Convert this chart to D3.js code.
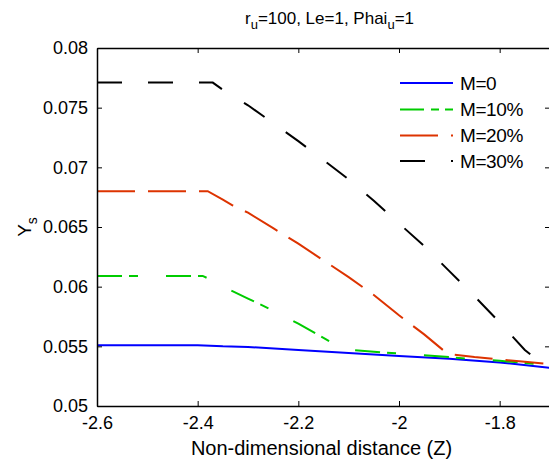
<!DOCTYPE html>
<html>
<head>
<meta charset="utf-8">
<script src="https://cdn.jsdelivr.net/npm/d3@7"></script>
<style>
  body { margin: 0; background: #fff; }
  svg { font-family: "Liberation Sans", Arial, sans-serif; }
</style>
</head>
<body>
<svg id="chart" width="549" height="462"></svg>
<script>
// Z positions and Ys values
const zM0  = [-2.6, -2.4, -2.35, -2.3, -2.2, -2.1, -2.0, -1.9, -1.8, -1.7];
const yM0  = [0.0551, 0.0551, 0.0550, 0.05495, 0.0547, 0.05445, 0.0542, 0.05395, 0.05365, 0.0532];

const zM10 = [-2.6, -2.39, -2.37, -2.35, -2.3, -2.25, -2.2, -2.15, -2.12, -2.1, -2.05, -2.0, -1.95, -1.9, -1.85, -1.8, -1.75, -1.7];
const yM10 = [0.0609, 0.0609, 0.0605, 0.0600, 0.0590, 0.0580, 0.0569, 0.0557, 0.0550, 0.0547, 0.05455, 0.0544, 0.05425, 0.0541, 0.0539, 0.0538, 0.0536, 0.0534];

const zM20 = [-2.6, -2.38, -2.35, -2.33, -2.3, -2.25, -2.2, -2.15, -2.1, -2.05, -2.0, -1.95, -1.91, -1.89, -1.85, -1.8, -1.75, -1.7];
const yM20 = [0.0680, 0.0680, 0.0673, 0.0668, 0.0662, 0.0649, 0.0636, 0.0622, 0.0608, 0.0593, 0.0576, 0.0560, 0.0546, 0.0543, 0.0541, 0.0539, 0.0537, 0.0535];

const zM30 = [-2.6, -2.37, -2.35, -2.3, -2.25, -2.2, -2.15, -2.1, -2.05, -2.0, -1.95, -1.9, -1.85, -1.8, -1.75, -1.72, -1.7];
const yM30 = [0.0771, 0.0771, 0.0765, 0.0752, 0.0737, 0.0722, 0.0706, 0.0690, 0.0672, 0.0653, 0.0634, 0.0613, 0.0592, 0.0570, 0.0547, 0.0537, 0.0535];

const xTicks = [-2.6, -2.4, -2.2, -2.0, -1.8];
const yTicks = [0.05, 0.055, 0.06, 0.065, 0.07, 0.075, 0.08];
const seriesNames = ["M=0", "M=10%", "M=20%", "M=30%"];

const series = [
  { name: seriesNames[0], z: zM0,  y: yM0,  color: "#0000ff", dash: null },
  { name: seriesNames[1], z: zM10, y: yM10, color: "#00cc00", dash: "25,7,9,28" },
  { name: seriesNames[2], z: zM20, y: yM20, color: "#dd3300", dash: "38,13" },
  { name: seriesNames[3], z: zM30, y: yM30, color: "#000000", dash: "25,26" }
];

const box = { left: 97, right: 550, top: 48, bottom: 406 };

const svg = d3.select("#chart");

const x = d3.scaleLinear().domain([-2.6, -1.7]).range([box.left, box.right]);
const y = d3.scaleLinear().domain([0.05, 0.08]).range([box.bottom, box.top]);

const line = d3.line()
  .x(d => x(d[0]))
  .y(d => y(d[1]));

// clip to the axes box
svg.append("clipPath").attr("id", "clip")
  .append("rect")
  .attr("x", box.left).attr("y", box.top)
  .attr("width", box.right - box.left).attr("height", box.bottom - box.top);

const plot = svg.append("g").attr("clip-path", "url(#clip)");

series.forEach(s => {
  plot.append("path")
    .datum(s.z.map((z, i) => [z, s.y[i]]))
    .attr("d", line)
    .attr("fill", "none")
    .attr("stroke", s.color)
    .attr("stroke-width", 2)
    .attr("stroke-dasharray", s.dash);
});

// axes with inward ticks on all four sides
const fmtY = d => String(+d.toFixed(3));
const fmtX = d => String(+d.toFixed(1));

const axB = svg.append("g")
  .attr("transform", `translate(0,${box.bottom})`)
  .call(d3.axisBottom(x).tickValues(xTicks).tickSizeInner(-5).tickSizeOuter(0).tickPadding(10).tickFormat(fmtX));
const axT = svg.append("g")
  .attr("transform", `translate(0,${box.top})`)
  .call(d3.axisTop(x).tickValues(xTicks).tickSizeInner(-5).tickSizeOuter(0).tickFormat(""));
const axL = svg.append("g")
  .attr("transform", `translate(${box.left},0)`)
  .call(d3.axisLeft(y).tickValues(yTicks).tickSizeInner(-5).tickSizeOuter(0).tickPadding(9).tickFormat(fmtY));
const axR = svg.append("g")
  .attr("transform", `translate(${box.right},0)`)
  .call(d3.axisRight(y).tickValues(yTicks).tickSizeInner(-5).tickSizeOuter(0).tickFormat(""));

[axB, axT, axL, axR].forEach(a => {
  a.select(".domain").attr("stroke", "#000").attr("stroke-width", 1.5);
  a.selectAll(".tick line").attr("stroke", "#000");
  a.selectAll("text")
    .attr("fill", "#000")
    .style("font-family", "'Liberation Sans', Arial, sans-serif")
    .style("font-size", "18px");
});

// title
const title = svg.append("text")
  .attr("x", (box.left + box.right) / 2 + 6)
  .attr("y", 24)
  .attr("text-anchor", "middle")
  .style("font-size", "17px");
title.append("tspan").text("r");
title.append("tspan").attr("dy", 5).style("font-size", "13px").text("u");
title.append("tspan").attr("dy", -5).text("=100, Le=1, Phai");
title.append("tspan").attr("dy", 5).style("font-size", "13px").text("u");
title.append("tspan").attr("dy", -5).text("=1");

// x label
svg.append("text")
  .attr("x", (box.left + box.right) / 2 - 2)
  .attr("y", 455)
  .attr("text-anchor", "middle")
  .style("font-size", "20px")
  .text("Non-dimensional distance (Z)");

// y label
const yl = svg.append("text")
  .attr("transform", `translate(31,${(box.top + box.bottom) / 2}) rotate(-90)`)
  .attr("text-anchor", "middle")
  .style("font-size", "19px");
yl.append("tspan").text("Y");
yl.append("tspan").attr("dy", 6).style("font-size", "14px").text("s");

// legend
const legendY = [83, 109.5, 135.5, 161];
const legend = svg.append("g");
series.forEach((s, i) => {
  legend.append("line")
    .attr("x1", 400).attr("x2", 453)
    .attr("y1", legendY[i]).attr("y2", legendY[i])
    .attr("stroke", s.color)
    .attr("stroke-width", 2)
    .attr("stroke-dasharray", i === 1 ? "24,7,8,6" : s.dash);
  legend.append("text")
    .attr("x", 460)
    .attr("y", legendY[i])
    .attr("dy", "0.36em")
    .style("font-size", "19px")
    .style("letter-spacing", "-0.4px")
    .text(s.name);
});
</script>
</body>
</html>
